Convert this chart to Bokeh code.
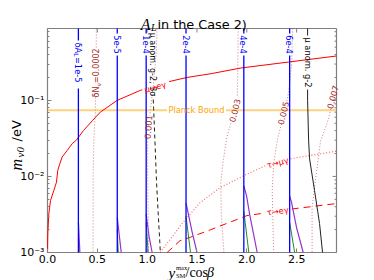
import numpy as np
from math import log10
from bokeh.plotting import figure
from bokeh.models import Label, FixedTicker
from bokeh.embed import file_html
from bokeh.resources import INLINE

# ---------------- data ----------------
x_ticks = [0.0, 0.5, 1.0, 1.5, 2.0, 2.5]
x_tick_labels = ["0.0", "0.5", "1.0", "1.5", "2.0", "2.5"]
y_ticks = [1e-3, 1e-2, 1e-1]
y_tick_labels = ["10⁻³", "10⁻²", "10⁻¹"]

X_END = 2.9
Y_START, Y_END = 1e-3, 0.88

# delta A_L contours (blue) and their low-mass branches
dA_labels = ["1e-5", "5e-5", "1e-4", "2e-4", "4e-4", "6e-4"]
dA_x = [0.31, 0.70, 0.99, 1.39, 1.97, 2.43]
purple_x = [[0.31, 0.325], [0.70, 0.72, 0.74], [0.99, 1.02, 1.05],
            [1.39, 1.45, 1.50], [1.97, 1.997, 2.03, 2.064, 2.104],
            [2.43, 2.448, 2.50, 2.566]]
purple_m = [[0.0025, 0.001], [0.0029, 0.0017, 0.001], [0.0032, 0.0016, 0.001],
            [0.0045, 0.0019, 0.001], [0.0075, 0.0056, 0.0031, 0.00185, 0.001],
            [0.0055, 0.0046, 0.0021, 0.001]]
green_x = [[0.31, 0.315], [0.70, 0.71], [0.99, 1.01], [1.39, 1.435],
           [1.97, 2.02], [2.43, 2.48]]
green_m = [[0.0015, 0.001], [0.002, 0.001], [0.0025, 0.001], [0.003, 0.001],
           [0.0035, 0.001], [0.0025, 0.001]]

# mu -> e gamma (red solid)
mueg_x = [0.0, 0.003, 0.013, 0.03, 0.063, 0.09, 0.103, 0.124, 0.147, 0.198,
          0.248, 0.29, 0.36, 0.45, 0.53, 0.70, 0.93, 1.20, 1.40, 1.64, 1.94,
          2.42, 2.9]
mueg_m = [0.001, 0.00176, 0.0032, 0.0048, 0.0065, 0.0084, 0.012, 0.0147,
          0.018, 0.022, 0.027, 0.030, 0.040, 0.054, 0.07, 0.100, 0.135,
          0.174, 0.200, 0.224, 0.266, 0.319, 0.383]
# tau -> mu gamma (red dotted), tau -> e gamma (red dashed)
taumu_x = [1.13, 1.25, 1.35, 1.53, 1.73, 2.0, 2.18, 2.43, 2.9]
taumu_m = [0.001, 0.0016, 0.0024, 0.0045, 0.0071, 0.0107, 0.0137, 0.017, 0.0215]
taue_x = [1.2, 1.33, 1.435, 1.636, 2.0, 2.43, 2.9]
taue_m = [0.001, 0.00143, 0.00159, 0.00199, 0.00305, 0.0037, 0.0044]

# muon g-2 (black)
gm2_3s_x = [1.05, 1.052, 1.065, 1.08, 1.094, 1.11, 1.127, 1.132]
gm2_3s_m = [0.88, 0.2, 0.078, 0.0255, 0.0084, 0.0034, 0.00137, 0.001]
gm2_x = [2.61, 2.61, 2.62, 2.63, 2.68, 2.73, 2.76]
gm2_m = [0.88, 0.1, 0.03, 0.017, 0.0065, 0.0024, 0.001]

# delta N_nu contours (brown dotted)
dN_labels = ["0.0002", "0.001", "0.003", "0.005", "0.007"]
dN_x = [[0.49, 0.488, 0.48, 0.465, 0.458, 0.457],
        [1.10, 1.09, 1.06, 1.03, 1.01, 1.005, 1.005, 1.01, 1.015],
        [1.913, 1.91, 1.905, 1.84, 1.80, 1.76, 1.738, 1.745, 1.77],
        [2.46, 2.45, 2.42, 2.40, 2.35, 2.31, 2.27, 2.255, 2.262, 2.27],
        [2.9, 2.87, 2.84, 2.82, 2.74, 2.69, 2.655, 2.655]]
dN_m = [[0.88, 0.3, 0.07, 0.03, 0.01, 0.001],
        [0.88, 0.4, 0.15, 0.07, 0.045, 0.03, 0.01, 0.003, 0.001],
        [0.88, 0.3, 0.11, 0.05, 0.033, 0.015, 0.008, 0.003, 0.001],
        [0.88, 0.3, 0.13, 0.094, 0.05, 0.032, 0.015, 0.0066, 0.0025, 0.001],
        [0.16, 0.11, 0.075, 0.057, 0.029, 0.0092, 0.0039, 0.001]]

planck_m = 0.074

# ---------------- layout helpers (canvas pixel -> data) ----------------
W, H = 374, 280
FL, FR, FT, FB = 47, 336, 28, 252
LY0, LY1 = log10(Y_START), log10(Y_END)


def X(px):
    return (px - FL) / (FR - FL) * X_END


def M(py):
    return 10 ** (LY0 + (FB - py) / (FB - FT) * (LY1 - LY0))


def cut(xs, ms, gaps, by="m"):
    lx = [log10(m) for m in ms]
    key = lx if by == "m" else list(xs)
    G = [(log10(a), log10(b)) if by == "m" else (a, b) for a, b in gaps]
    G = [(min(a, b), max(a, b)) for a, b in G]

    def inside(k):
        return any(a < k < b for a, b in G)

    XX, YY = [], []
    for i in range(len(xs)):
        if i > 0:
            k0, k1 = key[i - 1], key[i]
            bounds = sorted([b for g in G for b in g if min(k0, k1) < b < max(k0, k1)],
                            key=lambda b: abs(b - k0))
            for b in bounds:
                f = (b - k0) / (k1 - k0)
                XX.append(xs[i - 1] + f * (xs[i] - xs[i - 1]))
                YY.append(10 ** (lx[i - 1] + f * (lx[i] - lx[i - 1])))
                eps = 1e-9 if k1 > k0 else -1e-9
                if inside(b + eps):
                    XX.append(np.nan)
                    YY.append(np.nan)
        if not inside(key[i]):
            XX.append(xs[i])
            YY.append(ms[i])
    return np.array(XX, dtype=float), np.array(YY, dtype=float)


# ---------------- figure: frame spans the whole canvas ----------------
p = figure(width=W, height=H,
           x_range=(X(0), X(W)), y_range=(M(H), M(0)), y_axis_type="log",
           output_backend="svg", toolbar_location=None,
           min_border=0, min_border_left=0, min_border_right=0,
           min_border_top=0, min_border_bottom=0)
p.title = None
p.grid.visible = False
p.outline_line_color = None
p.background_fill_color = "white"
p.border_fill_color = "white"

minor = [k * 10 ** e for e in (-3, -2, -1) for k in range(2, 10) if k * 10 ** e < Y_END]
xa = p.xaxis[0]
ya = p.yaxis[0]
xa.fixed_location = Y_START
ya.fixed_location = 0.0
xa.ticker = FixedTicker(ticks=x_ticks)
xa.major_label_overrides = {t: s for t, s in zip(x_ticks, x_tick_labels)}
ya.ticker = FixedTicker(ticks=y_ticks, minor_ticks=minor)
ya.major_label_overrides = {t: s for t, s in zip(y_ticks, y_tick_labels)}
for ax in (xa, ya):
    ax.axis_line_color = None
    ax.major_tick_in = 4
    ax.major_tick_out = 0
    ax.minor_tick_in = 2
    ax.minor_tick_out = 0
    ax.major_tick_line_color = "#808080"
    ax.minor_tick_line_color = "#808080"
    ax.major_label_text_font = "DejaVu Sans"
    ax.major_label_text_font_size = "11px"
    ax.major_label_text_color = "black"
xa.major_label_standoff = 2
ya.major_label_standoff = 3

# plot box with mirrored ticks on top and right
TICK = "#808080"
p.segment(x0=[0.0, X_END, 0.0, 0.0], y0=[Y_END, Y_START, Y_START, Y_START],
          x1=[X_END, X_END, X_END, 0.0], y1=[Y_END, Y_END, Y_START, Y_END],
          line_color=TICK, line_width=1.2)
p.segment(x0=x_ticks, y0=[Y_END] * len(x_ticks), x1=x_ticks,
          y1=[M(FT + 4)] * len(x_ticks), line_color=TICK, line_width=1)
p.segment(x0=[X_END] * len(y_ticks), y0=y_ticks, x1=[X(FR - 4)] * len(y_ticks),
          y1=y_ticks, line_color=TICK, line_width=1)
p.segment(x0=[X_END] * len(minor), y0=minor, x1=[X(FR - 2)] * len(minor),
          y1=minor, line_color=TICK, line_width=1)

BROWN = "#a52a2a"

# delta N_nu dotted contours with label gaps
dN_gaps = [(M(97), M(49)), (M(138), M(115)), (M(123), M(97)),
           (M(123.5), M(101.5)), (M(108.5), M(84.5))]
for xs, ms, g in zip(dN_x, dN_m, dN_gaps):
    gx, gy = cut(xs, ms, [g])
    p.line(gx, gy, line_color=BROWN, line_alpha=0.6, line_width=1, line_dash="1 2")

# Planck bound
gx, gy = cut([0.0, X_END], [planck_m, planck_m], [(1.20, 1.79)], by="x")
p.line(gx, gy, line_color="#ffa500", line_alpha=0.5, line_width=2)

# LFV curves
gx, gy = cut(mueg_x, mueg_m, [(0.95, 1.22)], by="x")
p.line(gx, gy, line_color="red", line_width=1)
gx, gy = cut(taumu_x, taumu_m, [(2.19, 2.44)], by="x")
p.line(gx, gy, line_color="red", line_alpha=0.6, line_width=1.2, line_dash="1 2")
gx, gy = cut(taue_x, taue_m, [(2.19, 2.45)], by="x")
p.line(gx, gy, line_color="red", line_width=1, line_dash="7 5")

# low-mass branches
for xs, ms in zip(purple_x, purple_m):
    p.line(xs, ms, line_color="#9932cc", line_width=1.2)
for xs, ms in zip(green_x, green_m):
    p.line(xs, ms, line_color="#228b22", line_width=1)

# blue delta A_L contours
for i, x0 in enumerate(dA_x):
    g = (M(88), M(40)) if i == 0 else (M(55), M(33))
    gx, gy = cut([x0, x0], [Y_START, Y_END], [g])
    p.line(gx, gy, line_color="#0000ff", line_width=1.3)

# muon g-2
gx, gy = cut(gm2_3s_x, gm2_3s_m, [(M(99), M(28))])
p.line(gx, gy, line_color="#222222", line_width=1, line_dash="4 3")
gx, gy = cut(gm2_x, gm2_m, [(M(89), M(35))])
p.line(gx, gy, line_color="#222222", line_width=1)


# ---------------- text ----------------
def lab(text, x, y, size, color="black", font="DejaVu Sans", style="normal",
        angle=0, align="left", baseline="alphabetic", alpha=1.0, dx=0):
    p.add_layout(Label(x=x, y=y, text=text, text_font=font,
                       text_font_size=f"{size}px", text_font_style=style,
                       text_color=color, text_alpha=alpha, angle=angle,
                       angle_units="deg", text_align=align,
                       text_baseline=baseline, x_offset=dx))


# blue labels
x0 = dA_x[0]
lab("δA", x0, M(42), 8.3, "#0000ff", angle=-90, baseline="middle")
lab("L", x0, M(52.8), 6, "#0000ff", angle=-90, baseline="middle", dx=-2)
lab("=" + dA_labels[0], x0, M(56.4), 8.3, "#0000ff", angle=-90, baseline="middle")
for t, x in zip(dA_labels[1:], dA_x[1:]):
    lab(t, x, M(44), 8.3, "#0000ff", angle=-90, align="center", baseline="middle")

# delta N labels
x0 = dN_x[0][1]
lab("δN", x0, M(97), 8, BROWN, angle=90, baseline="middle")
lab("ν", x0, M(86.1), 6, BROWN, angle=90, baseline="middle", dx=2)
lab("=" + dN_labels[0], x0, M(82.5), 8, BROWN, angle=90, baseline="middle")
dN_lab_pos = [(X(147.5), M(126.5), 85), (X(234), M(110), 76),
              (X(282.5), M(112.5), 76), (X(332), M(96.5), 75)]
for t, (lx, ly, a) in zip(dN_labels[1:], dN_lab_pos):
    lab(t, lx, ly, 8.3, BROWN, angle=a, align="center", baseline="middle")

# g-2 labels
lab("μ anom. g-2, 3σ", gm2_3s_x[1], M(64), 8, "black", angle=-90,
    align="center", baseline="middle")
lab("μ anom. g-2", gm2_x[0], M(62), 8.3, "black", angle=-90,
    align="center", baseline="middle")

# LFV labels
lab("μ→eγ", 1.08, 0.15, 8.3, "red", angle=15, align="center", baseline="middle")
lab("τ→μγ", 2.31, 0.0152, 8.3, "red", angle=15, align="center", baseline="middle")
lab("τ→eγ", 2.31, 0.0035, 8.3, "red", angle=8, align="center", baseline="middle")
lab("Planck Bound", 1.495, planck_m, 8.3, "#ffa500", align="center", baseline="middle")

# title
lab("A", X(150), M(24), 16, font="Liberation Serif", style="italic", align="right")
lab("L", X(150.5), M(27), 10, font="Liberation Serif", style="italic")
lab("in the Case 2)", X(157), M(24), 12.8)

# y axis label
lab("m", X(16), M(170), 16, font="Liberation Serif", style="italic", angle=90)
lab("ν0", X(19), M(157), 11, font="Liberation Serif", style="italic", angle=90)
lab("/eV", X(16), M(141), 13, angle=90)

# x axis label
lab("y", X(168), M(272), 15, font="Liberation Serif", style="italic")
lab("max", X(175.5), M(266.5), 6.5, font="Liberation Serif")
lab("SM", X(175.5), M(274.5), 6.5, font="Liberation Serif")
lab("/cos", X(185), M(272), 14, font="Liberation Serif")
lab("β", X(206.5), M(272), 14, font="Liberation Serif", style="italic")

open("out.html", "w").write(file_html(p, INLINE))
